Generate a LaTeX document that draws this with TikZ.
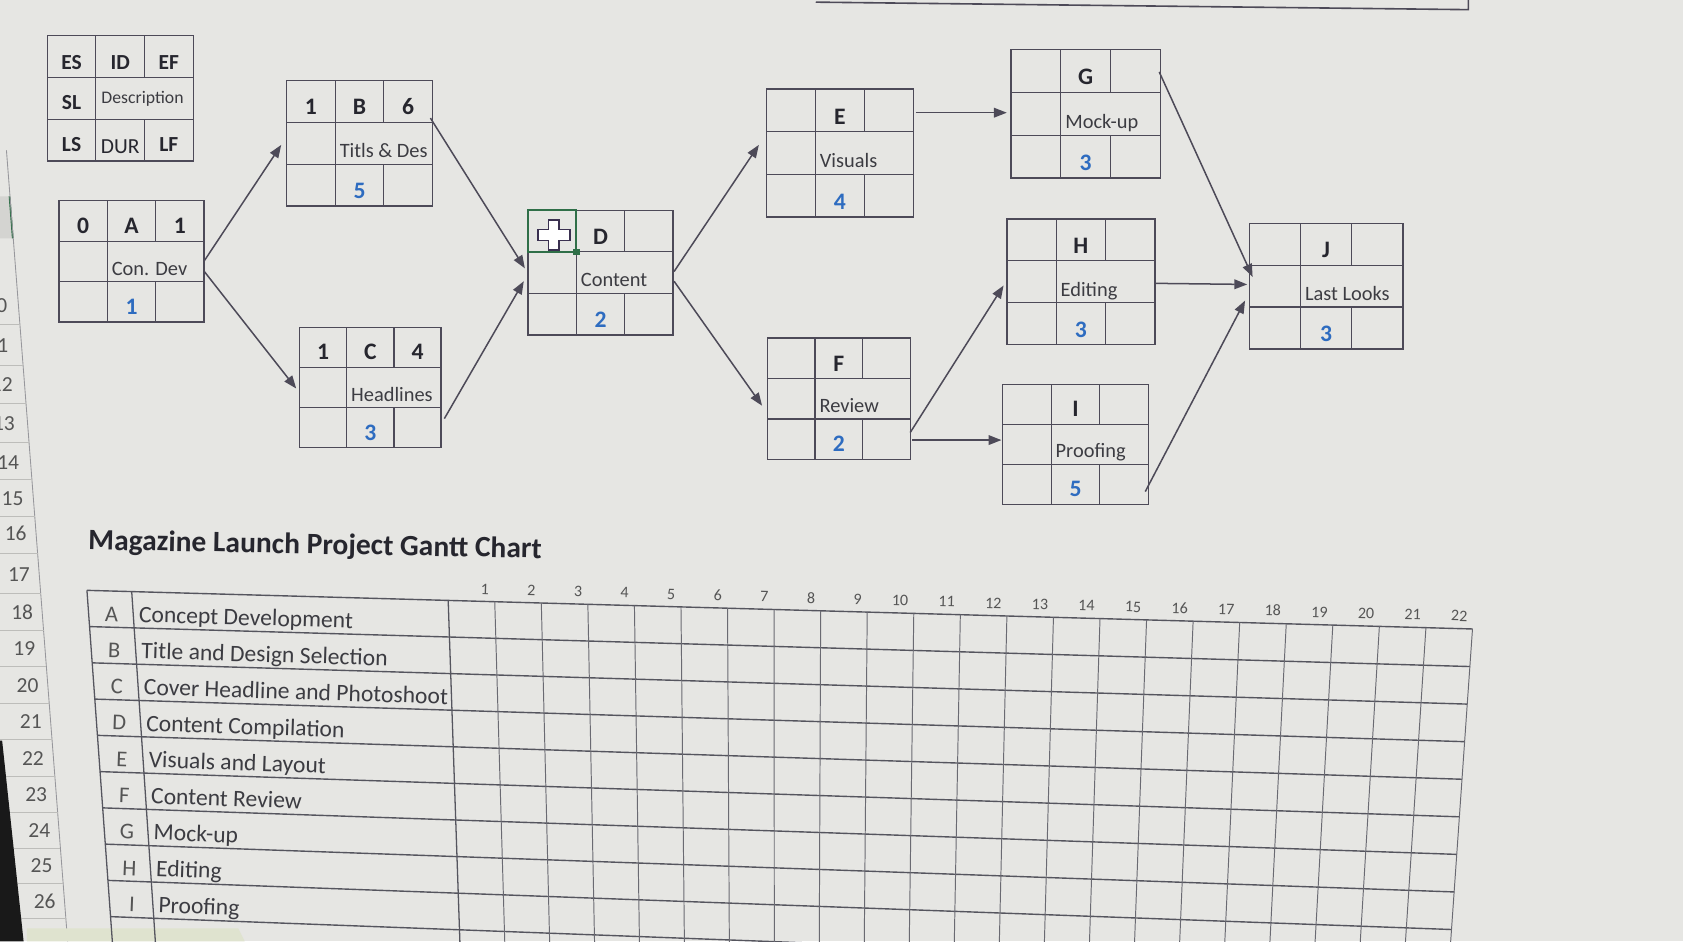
\documentclass[tikz,border=0pt]{standalone}
\usepackage{fontspec}
\setmainfont{Carlito}
\usetikzlibrary{calc,arrows.meta}
\definecolor{bg}{HTML}{E6E6E3}
\definecolor{ln}{HTML}{4D4A58}
\definecolor{txt}{HTML}{26262E}
\definecolor{desc}{HTML}{3C3C42}
\definecolor{dur}{HTML}{2E6CC0}
\definecolor{gridc}{HTML}{6A6A72}
\definecolor{gridhc}{HTML}{55555E}
\definecolor{rowhdr}{HTML}{555555}
\definecolor{selgreen}{HTML}{2F6F48}
\definecolor{stripc}{HTML}{DFE3CF}
\definecolor{cursorc}{HTML}{3A3050}
\tikzset{
 pbox/.style={draw=ln, line width=1.3pt, inner sep=0pt, outer sep=0pt},
 pcell/.style={draw=ln, line width=1.1pt},
 plabel/.style={font=\fontsize{22}{24}\selectfont\bfseries, text=txt, inner sep=0pt, anchor=base},
 pdesc/.style={font=\fontsize{19}{22}\selectfont, text=desc, inner sep=0pt, anchor=base west},
 pdur/.style={font=\fontsize{22}{24}\selectfont\bfseries, text=dur, inner sep=0pt, anchor=base},
 arr/.style={draw=ln, line width=1.4pt, -{Triangle[length=12pt,width=9pt]}},
 gridv/.style={draw=gridc, line width=0.9pt},
 gridh/.style={draw=gridhc, line width=1.3pt},
 gridl/.style={draw=gridhc, line width=1.2pt},
 gnum/.style={font=\fontsize{15}{16}\selectfont, text=rowhdr, inner sep=0pt, anchor=base east},
 gletter/.style={font=\fontsize{21}{22}\selectfont, text=rowhdr, inner sep=0pt, anchor=base},
 gdesc/.style={font=\fontsize{22}{24}\selectfont, text=desc, inner sep=0pt, anchor=base west},
 rnum/.style={font=\fontsize{20}{22}\selectfont, text=rowhdr, inner sep=0pt, anchor=base east},
}
\newcommand\pertbox[9]{%
\begin{scope}[shift={#2}]
\node[pbox, minimum width=#3pt, minimum height=#4pt, anchor=north west] (#1) at (0,0) {};
\draw[pcell] (0,#4/3) -- (#3,#4/3) (0,2*#4/3) -- (#3,2*#4/3)
 (#3/3,0) -- (#3/3,#4) (2*#3/3,0) -- (2*#3/3,#4/3) (2*#3/3,2*#4/3) -- (2*#3/3,#4);
\node[plabel] (#1-es) at (#3/6,#4/3-7) {#5};
\node[plabel] (#1-id) at (#3/2,#4/3-7) {#6};
\node[plabel] (#1-ef) at (5*#3/6,#4/3-7) {#7};
\node[pdesc] (#1-desc) at (#3/3+4,2*#4/3-6) {#8};
\node[pdur] (#1-dur) at (#3/2,#4-7) {#9};
\end{scope}}
\begin{document}
\begin{tikzpicture}[x=1pt,y=-1pt]
\useasboundingbox (0,0) rectangle (1568,877);
\clip (0,0) rectangle (1568,877);
\fill[bg] (0,0) rectangle (1568,877);

% spreadsheet row header column
\fill[black!8!bg] (0,183) -- (8.9,183) -- (11.9,222) -- (0,222) -- cycle;
\draw[selgreen, line width=1.6pt] (8.9,183) -- (11.9,222);
\draw[gridc!70, line width=0.8pt] (6,140) -- (63,877);
\foreach \yy in {302,340,376,412,447,481,516,553,587,621,655,689,723,757,790,823,856} {
  \pgfmathsetmacro\xx{6+0.0773*(\yy-140)}
  \draw[black!18!bg, line width=0.7pt] (0,\yy) -- (\xx,\yy);
}
\foreach \n/\xr/\yc in {10/7/284,11/8/321,12/12/358,13/14/394,14/18/430,15/22/464,16/25/497,17/28/535,18/31/570,19/33/604,20/36/638,21/39/672,22/41/706,23/44/740,24/47/773,25/49/806,26/52/839} {
  \node[rnum] (rn\n) at (\xr,\yc+7) {\n};
}
% bezel and strip at bottom left
\fill[black!90] (0,690) -- (2,690) -- (22,877) -- (0,877) -- cycle;
\fill[stripc] (25,865) -- (222,865) -- (228,877) -- (25,877) -- cycle;

% top box edge
\draw[ln, line width=1.5pt] (760,2) -- (1368,9) -- (1368,-2);

% network boxes
\pertbox{L}{(44,33)}{136}{117}{\fontsize{20}{22}\selectfont ES}{\fontsize{20}{22}\selectfont ID}{\fontsize{20}{22}\selectfont EF}{}{\normalfont\fontsize{20}{22}\selectfont\color{txt}DUR}
\node[plabel, font=\fontsize{20}{22}\selectfont\bfseries] (L-sl) at ($(L.north west)+(136/6,69)$) {SL};
\node[plabel, font=\fontsize{20}{22}\selectfont\bfseries] (L-ls) at ($(L.north west)+(136/6,108)$) {LS};
\node[plabel, font=\fontsize{20}{22}\selectfont\bfseries] (L-lf) at ($(L.north west)+(5*136/6,108)$) {LF};
\node[pdesc, font=\fontsize{16.5}{18}\selectfont] (L-d) at ($(L.north west)+(136/3+5,63)$) {Description};

\pertbox{A}{(55,187)}{135}{113}{0}{A}{1}{Con. Dev}{1}
\pertbox{B}{(267,75)}{136}{117}{1}{B}{6}{Titls \& Des}{5}
\pertbox{C}{(279,305)}{132}{112}{1}{C}{4}{Headlines}{3}
\pertbox{D}{(492,196)}{135}{116}{}{D}{}{Content}{2}
\pertbox{E}{(714,83)}{137}{119}{}{E}{}{Visuals}{4}
\pertbox{F}{(715,315)}{133}{113}{}{F}{}{Review}{2}
\pertbox{G}{(942,46)}{139}{120}{}{G}{}{Mock-up}{3}
\pertbox{H}{(938,204)}{138}{117}{}{H}{}{Editing}{3}
\pertbox{I}{(934,358)}{136}{112}{}{I}{}{Proofing}{5}
\pertbox{J}{(1164,208)}{143}{117}{}{J}{}{Last Looks}{3}

% selected cell and cursor in D
\draw[selgreen, line width=2pt] (D.north west) rectangle ($(D.north west)+(45,39)$);
\fill[selgreen] ($(D.north west)+(42,36)$) rectangle ($(D.north west)+(48,42)$);
\begin{scope}[shift={($(D.north west)+(24,23)$)}]
\draw[fill=white, draw=cursorc, line width=1.5pt]
 (-5,-14) -- (5,-14) -- (5,-5) -- (15,-5) -- (15,5) -- (5,5) -- (5,14) -- (-5,14) -- (-5,5) -- (-15,5) -- (-15,-5) -- (-5,-5) -- cycle;
\end{scope}

% connectors
\draw[arr] (A.east) -- ($(B.west)+(-5,1.5)$);
\draw[arr] ($(A.east)+(0,9)$) -- ($(C.west)+(-3,1)$);
\draw[arr] ($(B.east)+(-2,-23.5)$) -- ($(D.west)+(-3,-4)$);
\draw[arr] ($(C.east)+(3,29)$) -- ($(D.west)+(-4,8)$);
\draw[arr] ($(D.east)+(1,-1)$) -- ($(E.west)+(-7,-7.5)$);
\draw[arr] ($(D.east)+(1,8)$) -- ($(F.west)+(-5,6.5)$);
\draw[arr] ($(E.east)+(2,-37.5)$) -- ($(G.west)+(-4,-1)$);
\draw[arr] ($(F.east)+(0,31.5)$) -- ($(H.west)+(-3,3.5)$);
\draw[arr] ($(F.east)+(2,38.5)$) -- ($(I.west)+(-1,-4)$);
\draw[arr] ($(G.east)+(-1,-39)$) -- ($(J.west)+(3,-8.5)$);
\draw[arr] ($(H.east)+(1,1.5)$) -- ($(J.west)+(-2,-1.5)$);
\draw[arr] ($(I.east)+(-3,44)$) -- ($(J.west)+(-4,13.5)$);

% title
\node[font=\fontsize{27.5}{30}\selectfont\bfseries, text=txt, inner sep=0pt, anchor=base west, rotate=-1.1] (title) at (82,512) {Magazine Launch Project Gantt Chart};

% gantt grid (perspective quad)
\coordinate (TL) at (81,550);
\coordinate (TR) at (1372,586);
\coordinate (BL) at (103,854);
\coordinate (BR) at (1350,901);
\pgfmathsetmacro\uL{0.0323}
\pgfmathsetmacro\uD{0.2607}
\pgfmathsetmacro\du{(1-0.2607)/22}
\foreach \k in {0,...,10} {
  \pgfmathsetmacro\v{\k/9}
  \draw[gridh] ($(TL)!\v!(BL)$) -- ($(TR)!\v!(BR)$);
}
\foreach \u in {0,\uL,\uD} {
  \coordinate (t) at ($(TL)!\u!(TR)$);
  \coordinate (b) at ($(BL)!\u!(BR)$);
  \draw[gridl] (t) -- ($(t)!1.1!(b)$);
}
\foreach \k in {1,...,22} {
  \pgfmathsetmacro\u{\uD+\k*\du}
  \coordinate (t) at ($(TL)!\u!(TR)$);
  \coordinate (b) at ($(BL)!\u!(BR)$);
  \draw[gridv] (t) -- ($(t)!1.1!(b)$);
  \pgfmathsetmacro\uc{\uD+\k*\du-0.004}
  \coordinate (tc) at ($(TL)!\uc!(TR)$);
  \coordinate (bc) at ($(BL)!\uc!(BR)$);
  \node[gnum, rotate=-1.6] (h\k) at ($(tc)!-0.022!(bc)$) {\k};
}
\foreach \l/\t [count=\i from 0] in {A/Concept Development,B/Title and Design Selection,C/Cover Headline and Photoshoot,D/Content Compilation,E/Visuals and Layout,F/Content Review,G/Mock-up,H/Editing,I/Proofing} {
  \pgfmathsetmacro\vb{(\i+1)/9-0.018}
  \pgfmathsetmacro\ang{-(1.6+0.6*\vb)}
  \pgfmathsetmacro\ul{\uL/2}
  \pgfmathsetmacro\ud{\uL+0.0035}
  \coordinate (lt) at ($(TL)!\ul!(TR)$);
  \coordinate (lb) at ($(BL)!\ul!(BR)$);
  \node[gletter, rotate=\ang] (gl\i) at ($(lt)!\vb!(lb)$) {\l};
  \coordinate (dt) at ($(TL)!\ud!(TR)$);
  \coordinate (db) at ($(BL)!\ud!(BR)$);
  \node[gdesc, rotate=\ang] (gd\i) at ($(dt)!\vb!(db)$) {\t};
}
\end{tikzpicture}
\end{document}
